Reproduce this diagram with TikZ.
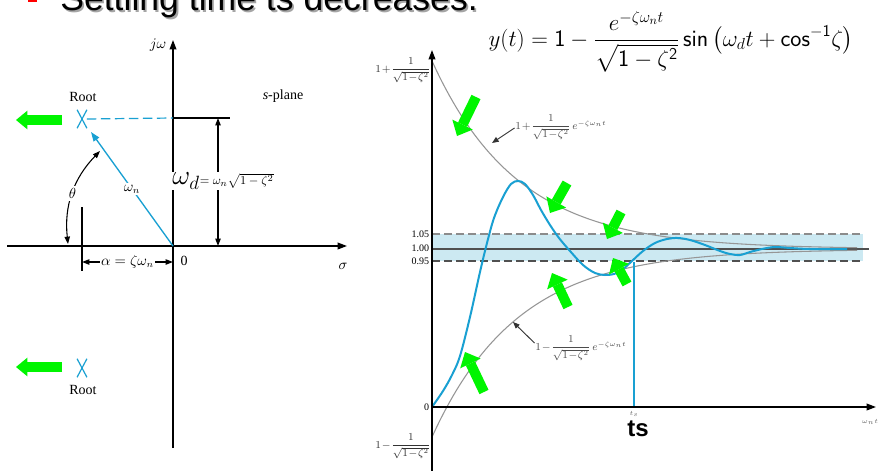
\documentclass[tikz,border=0pt]{standalone}
\usepackage{amsmath}
\usepackage{fontspec}
\setmainfont{Liberation Serif}
\newfontfamily\arialf{Liberation Sans}
\usetikzlibrary{arrows.meta,shapes.misc,calc}
\definecolor{cyanb}{RGB}{25,160,210}
\definecolor{bandblue}{RGB}{204,233,242}
\definecolor{greenA}{RGB}{0,245,0}
\definecolor{envgrey}{RGB}{150,150,150}
\definecolor{dashgreyA}{RGB}{140,140,140}
\definecolor{dashgreyB}{RGB}{80,80,80}
\definecolor{shadowgrey}{RGB}{165,165,165}
\begin{document}
\begin{tikzpicture}[x=0.75pt,y=-0.75pt,
  axis/.style={line width=1.1pt,-{Triangle[length=7pt,width=5pt]}},
  dimarrow/.style={line width=0.8pt,{Triangle[length=5.5pt,width=4pt]}-{Triangle[length=5.5pt,width=4pt]}},
  greenarrowL/.style={draw=greenA,line width=8.2pt,-{Triangle[length=8.5pt,width=14pt,line width=0pt]}},
  greenarrow/.style={draw=greenA,line width=7.5pt,-{Triangle[length=9.5pt,width=17pt,line width=0pt]}},
  xmark/.style={cross out,draw=cyanb,line width=0.9pt,minimum width=6.5pt,minimum height=13pt,inner sep=0pt},
  lbl/.style={font=\fontsize{10.5}{12}\selectfont,inner sep=1pt},
  whitelbl/.style={lbl,fill=white,inner sep=1.5pt,text=black},
  small/.style={font=\fontsize{7.5}{8}\selectfont,inner sep=0.5pt},
  envlbl/.style={font=\fontsize{7.6}{8}\selectfont,inner sep=0.5pt},
  pointer/.style={line width=0.7pt,draw=black!80,-{Triangle[length=5pt,width=4pt]}},
  envelope/.style={envgrey,line width=0.8pt},
  bluecurve/.style={cyanb,line width=1.5pt}
]
\useasboundingbox (0,0) rectangle (878,471);
\fill[white] (0,0) rectangle (878,471);

% ---------------- title (cut off at the top) ----------------
\fill[red] (28,-7) rectangle (37,2);
\node[anchor=base west,inner sep=0pt,text=shadowgrey,font=\arialf\fontsize{26.7}{30}\selectfont] at (61.8,12.3) {Settling time ts decreases.};
\node[anchor=base west,inner sep=0pt,font=\arialf\fontsize{26.7}{30}\selectfont] (title) at (60,10.5) {Settling time ts decreases.};

% ---------------- left: s-plane ----------------
\coordinate (O) at (173,246);
\coordinate (jwTop) at (173,40);
\coordinate (jwBot) at (173,448);
\coordinate (sigL) at (7,246);
\coordinate (sigR) at (347,246);
\coordinate (wdTop) at (173,118);
\coordinate (wdExt) at (230,118);
\coordinate (wdA) at (218,118);
\coordinate (wdB) at (218,246);
\coordinate (wnTip) at (91,132);
\coordinate (thA) at (100,151);
\coordinate (thB) at (68,244);
\coordinate (aTop) at (82,207);
\coordinate (aBot) at (82,271);
\coordinate (aL) at (82,262);
\coordinate (aR) at (173,262);
\coordinate (gL1s) at (62,120);
\coordinate (gL1e) at (16,120);
\coordinate (gL2s) at (62,367);
\coordinate (gL2e) at (16,367);

\draw[axis] (jwBot) -- (jwTop);
\draw[axis] (sigL) -- (sigR);
\node[lbl] (jw) at (158,45) {$j\omega$};
\node[lbl] (sig) at (343,266) {$\sigma$};
\node[lbl] (zeroL) at (184,261) {0};
\node[lbl] (splane) at (283,96) {\textit{s}-plane};

\node[xmark] (r1) at (82,119) {};
\node[xmark] (r2) at (82,368) {};
\node[lbl] (root1) at (83,97) {Root};
\node[lbl] (root2) at (83,390) {Root};

\draw[cyanb,line width=0.9pt,dash pattern=on 7pt off 3.5pt] (r1.east) -- (wdTop);
\draw[line width=0.8pt] (wdTop) -- (wdExt);

\draw[cyanb,line width=1pt,-{Triangle[length=7pt,width=5pt]}] (O) -- node[whitelbl,inner sep=1pt] (wn) {$\omega_n$} (wnTip);
\draw[dimarrow] (thA) to[bend right=25] node[whitelbl,pos=0.5] (theta) {$\theta$} (thB);

\draw[dimarrow] (wdA) -- (wdB);
\node[fill=white,inner sep=1pt] (wd) at (223,181) {{\fontsize{20}{22}\selectfont$\omega_{d}$}{\fontsize{9.5}{11}\selectfont$=\omega_n\sqrt{1-\zeta^2}$}};

\draw[line width=0.8pt] (aTop) -- (aBot);
\draw[dimarrow] (aL) -- node[whitelbl,inner sep=1pt] (alpha) {$\alpha=\zeta\omega_n$} (aR);

\draw[greenarrowL] (gL1s) -- (gL1e);
\draw[greenarrowL] (gL2s) -- (gL2e);

% ---------------- right: step response ----------------
\coordinate (P0) at (432,407);
\coordinate (yTop) at (432,50);
\coordinate (yBot) at (432,471);
\coordinate (xEnd) at (876,407);
\coordinate (tsTop) at (634,262);
\coordinate (tsBot) at (634,407);

\fill[bandblue] (432,234) rectangle (863,261);
\draw[dashgreyA,line width=1.4pt,dash pattern=on 6pt off 3pt] (432,234) -- (863,234);
\draw[dashgreyB,line width=1.2pt,dash pattern=on 6pt off 3pt] (432,261) -- (863,261);
\draw[dashgreyB,line width=1.1pt] (432,249) -- (869,249);

\draw[envelope] plot[domain=0:425,samples=120,variable=\t] ({432+\t},{249-188*exp(-0.0117*\t)});
\draw[envelope] plot[domain=0:425,samples=120,variable=\t] ({432+\t},{249+188*exp(-0.0117*\t)});

\draw[bluecurve] plot[smooth,tension=0.55] coordinates {
 (432,407) (443,391) (452,375) (460,356) (470,317) (480,272) (487,243) (494,218)
 (503,197) (511,184) (518,181) (525,184) (533,195) (541,210) (550,225) (559,238)
 (570,251) (583,265) (595,273) (605,275) (614,274) (622,270) (632,261) (643,251)
 (655,243) (667,239) (678,238) (690,240) (705,245) (720,251) (730,254) (740,255)
 (750,252) (762,249) (775,247) (790,248) (810,249) (847,249)};
\draw[cyanb,line width=1pt] (tsTop) -- (tsBot);

\draw[axis] (P0) -- (xEnd);
\draw[axis] (yBot) -- (yTop);

\node[small,anchor=east] (l105) at (430,234) {1.05};
\node[small,anchor=east] (l100) at (430,248.5) {1.00};
\node[small,anchor=east] (l095) at (430,261.5) {0.95};
\node[small,anchor=east] (l0) at (430,407) {0};
\node[envlbl,text=black!80] (upstart) at (403,70) {$1\!+\!\dfrac{1}{\sqrt{1\!-\!\zeta^2}}$};
\node[envlbl,text=black!80] (lowstart) at (403,446) {$1\!-\!\dfrac{1}{\sqrt{1\!-\!\zeta^2}}$};
\node[envlbl,text=black!70] (uplab) at (561,127) {$1\!+\!\dfrac{1}{\sqrt{1\!-\!\zeta^2}}\,e^{-\zeta\omega_n t}$};
\node[envlbl,text=black!70] (lowlab) at (581,348) {$1\!-\!\dfrac{1}{\sqrt{1\!-\!\zeta^2}}\,e^{-\zeta\omega_n t}$};
\coordinate (upTip) at (492,143);
\coordinate (lowTip) at (513,322);
\draw[pointer] (uplab.west) ++(0,1) -- (upTip);
\draw[pointer] (lowlab.west) ++(0,-5) -- (lowTip);
\node[font=\fontsize{5}{6}\selectfont,text=black!60] (tslab) at (634,414) {$t_s$};
\node[font=\fontsize{5}{6}\selectfont,text=black!60] (wnt) at (870,422) {$\omega_n t$};
\node[font=\arialf\bfseries\fontsize{18}{20}\selectfont,inner sep=0pt] (ts) at (638,429) {ts};

\node (yt) at (671,42) {\fontsize{17.7}{21}\selectfont$\displaystyle y(t)=\mathsf{1}-\frac{e^{-\zeta\omega_n t}}{\sqrt{\mathsf{1}-\zeta^{\mathsf{2}}}}\,\mathsf{sin}\left(\omega_d t+\mathsf{cos}^{-\mathsf{1}}\zeta\right)$};

% green arrows on the response
\coordinate (g1s) at (476,97);  \coordinate (g1e) at (457,136);
\coordinate (g2s) at (567,183); \coordinate (g2e) at (550,213);
\coordinate (g3s) at (621,212); \coordinate (g3e) at (607,239);
\coordinate (g4s) at (627,284); \coordinate (g4e) at (613,258);
\coordinate (g5s) at (568,307); \coordinate (g5e) at (552,273);
\coordinate (g6s) at (484,392); \coordinate (g6e) at (465,352);
\draw[greenarrow] (g1s) -- (g1e);
\draw[greenarrow] (g2s) -- (g2e);
\draw[greenarrow] (g3s) -- (g3e);
\draw[greenarrow] (g4s) -- (g4e);
\draw[greenarrow] (g5s) -- (g5e);
\draw[greenarrow] (g6s) -- (g6e);
\end{tikzpicture}
\end{document}
